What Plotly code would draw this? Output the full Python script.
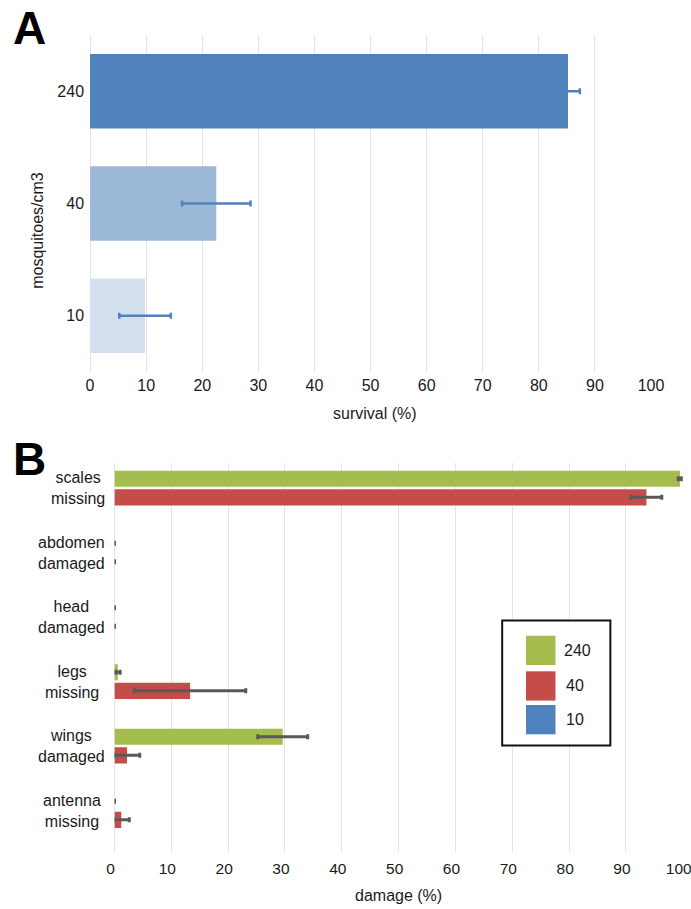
import plotly.graph_objects as go

W, H = 691, 909
S = 706.5 / 691    # layout px per picture px (the picture is squeezed horizontally)
FIG_W = 714        # a little wider than needed so right-edge labels are not clipped

# ---------------- data ----------------
# Panel A: survival by mosquito density
densities = ["240", "40", "10"]
survival = [85.2, 22.5, 9.8]
survival_err = [2.1, 6.1, 4.6]
density_colors = ["#4f81bd", "#9cb8d9", "#d4e0ef"]

# Panel B: damage types
damage_types = ["scales missing", "abdomen damaged", "head damaged",
                "legs missing", "wings damaged", "antenna missing"]
damage_240 = [99.5, 0, 0, 0.6, 29.6, 0]
damage_240_err = [0.3, 0, 0, 0.4, 4.4, 0]
damage_40 = [93.6, 0, 0, 13.3, 2.2, 1.2]
damage_40_err = [2.7, 0, 0, 9.8, 2.25, 1.4]
series_names = ["240", "40", "10"]
series_colors = ["#a5bc4e", "#c44d49", "#4f81bd"]

x_ticks = [0, 10, 20, 30, 40, 50, 60, 70, 80, 90, 100]

FONT = "Liberation Sans, Arial, sans-serif"
TXT = "#1a1a1a"
GRID = "#e4e4e4"


def px_x(p):
    return p * S / FIG_W


def px_y(p):
    return 1 - p / H


fig = go.Figure()

# Panel A
fig.add_trace(go.Bar(
    x=survival, y=densities, orientation="h", width=0.663,
    marker=dict(color=density_colors, line=dict(width=0)),
    error_x=dict(type="data", array=survival_err, color="#4f81bd",
                 thickness=2.5, width=3),
    xaxis="x", yaxis="y", showlegend=False,
))

# Panel B
fig.add_trace(go.Bar(
    x=damage_240, y=damage_types, orientation="h", name=series_names[0],
    marker=dict(color=series_colors[0], line=dict(width=0)),
    error_x=dict(type="data", array=damage_240_err, color="#595959",
                 thickness=3, width=2.5),
    xaxis="x2", yaxis="y2", showlegend=False,
))
fig.add_trace(go.Bar(
    x=damage_40, y=damage_types, orientation="h", name=series_names[1],
    marker=dict(color=series_colors[1], line=dict(width=0)),
    error_x=dict(type="data", array=damage_40_err, color="#595959",
                 thickness=3, width=2.5),
    xaxis="x2", yaxis="y2", showlegend=False,
))

axis_font = dict(family=FONT, size=16, color=TXT)

fig.update_layout(
    width=FIG_W, height=H,
    margin=dict(l=0, r=0, t=0, b=0),
    paper_bgcolor="white", plot_bgcolor="white",
    font=dict(family=FONT, size=16, color=TXT),
    barmode="group", bargap=0.426, bargroupgap=0.125,
    xaxis=dict(domain=[px_x(82.7), px_x(648)], range=[0, 100],
               tickvals=x_ticks, showgrid=True, gridcolor=GRID, gridwidth=1,
               zeroline=True, zerolinecolor=GRID, zerolinewidth=1,
               showline=False, ticks="", tickfont=axis_font,
               anchor="y", ticklabelstandoff=2),
    yaxis=dict(domain=[px_y(372), px_y(35)], type="category",
               categoryorder="array", categoryarray=densities,
               range=[2.5, -0.5], showgrid=False, zeroline=False,
               ticks="", tickfont=axis_font, anchor="x",
               ticklabelstandoff=5),
    xaxis2=dict(domain=[px_x(107.3), px_x(680)], range=[0, 100],
                tickvals=x_ticks, showgrid=True, gridcolor=GRID, gridwidth=1,
                zeroline=True, zerolinecolor=GRID, zerolinewidth=1,
                showline=False, ticks="",
                tickfont=dict(family=FONT, size=15.5, color=TXT),
                anchor="y2", ticklabelstandoff=5, ticklabelshift=-4),
    yaxis2=dict(domain=[px_y(852), px_y(463)], type="category",
                categoryorder="array", categoryarray=damage_types,
                range=[5.643, -0.388], showgrid=False, zeroline=False,
                showticklabels=False, ticks="", anchor="x2"),
)

annotations = []
# Panel letters
annotations.append(dict(text="<b>A</b>", x=px_x(21.5), y=px_y(27.5), xref="paper",
                        yref="paper", xanchor="center", yanchor="middle", borderpad=0,
                        showarrow=False, font=dict(family=FONT, size=46, color="black")))
annotations.append(dict(text="<b>B</b>", x=px_x(22), y=px_y(459), xref="paper",
                        yref="paper", xanchor="center", yanchor="middle", borderpad=0,
                        showarrow=False, font=dict(family=FONT, size=46, color="black")))
# Axis titles
annotations.append(dict(text="survival (%)", x=px_x(370), y=px_y(413), xref="paper",
                        yref="paper", xanchor="center", yanchor="middle",
                        showarrow=False, font=dict(family=FONT, size=16, color=TXT)))
annotations.append(dict(text="mosquitoes/cm3", x=px_x(29), y=px_y(230), xref="paper",
                        yref="paper", xanchor="center", yanchor="middle", textangle=-90,
                        showarrow=False, font=dict(family=FONT, size=16, color=TXT)))
annotations.append(dict(text="damage (%)", x=px_x(394), y=px_y(895), xref="paper",
                        yref="paper", xanchor="center", yanchor="middle",
                        showarrow=False, font=dict(family=FONT, size=16, color=TXT)))
# Category labels for panel B (two centred lines)
label_centers = [71, 64, 64, 64, 64, 64]
for cat, cx in zip(damage_types, label_centers):
    annotations.append(dict(text=cat.replace(" ", "<br>"), x=px_x(cx), y=cat,
                            xref="paper", yref="y2", xanchor="center",
                            yanchor="middle", align="center", showarrow=False,
                            font=dict(family=FONT, size=16, color=TXT)))

# Custom legend for panel B
shapes = [dict(type="rect", xref="paper", yref="paper",
               x0=px_x(498), x1=px_x(607), y0=px_y(745.5), y1=px_y(620.5),
               line=dict(color="#111111", width=2), fillcolor="white", layer="above")]
sw_top = [635.7, 671.3, 705]
for i, name in enumerate(series_names):
    shapes.append(dict(type="rect", xref="paper", yref="paper",
                       x0=px_x(522), x1=px_x(551.7),
                       y0=px_y(sw_top[i] + 29.3), y1=px_y(sw_top[i]),
                       line=dict(width=0), fillcolor=series_colors[i], layer="above"))
    annotations.append(dict(text=name, x=px_x(558 if len(name) == 3 else 560.5),
                            y=px_y(sw_top[i] + 14.6), xref="paper", yref="paper",
                            xanchor="left", yanchor="middle", showarrow=False,
                            font=dict(family=FONT, size=16, color=TXT)))

fig.update_layout(annotations=annotations, shapes=shapes)

fig.write_html("out.html", config={"displayModeBar": False},
               post_script="document.body.style.margin='0';"
                           "document.documentElement.style.overflow='hidden';"
                           "document.body.style.overflow='hidden';")
